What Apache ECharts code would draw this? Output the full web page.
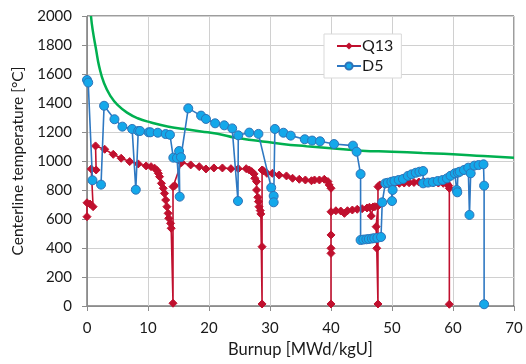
<!DOCTYPE html>
<html>
<head>
<meta charset="utf-8">
<script src="https://cdn.jsdelivr.net/npm/echarts@6/dist/echarts.min.js"></script>
<style>
html,body{margin:0;padding:0;background:#fff;}
#chart{width:526px;height:364px;}
</style>
</head>
<body>
<div id="chart"></div>
<script>
// ---- data (x = burnup MWd/kgU, y = temperature °C) ----
const seriesNames = ['Q13', 'D5'];
const xTickValues = [0, 10, 20, 30, 40, 50, 60, 70];
const yTickValues = [0, 200, 400, 600, 800, 1000, 1200, 1400, 1600, 1800, 2000];

const q13 = [
  [0.0,616],[0.0,712],[0.5,703],[1.0,685],[0.7,945],[1.5,938],[1.4,1104],[2.9,1081],
  [4.3,1046],[5.6,1019],[7.0,996],[8.4,980],[9.7,966],[10.5,961],[11.1,950],[11.5,934],
  [11.7,915],[11.9,892],[12.2,846],[12.5,812],[12.7,777],[12.9,731],[13.1,685],[13.3,639],
  [13.4,605],[13.7,570],[13.8,536],[14.1,19],[14.1,823],[14.4,830],[15.5,989],[17.0,973],
  [18.4,961],[19.5,945],[20.8,952],[22.2,952],[23.6,947],[24.8,947],[26.1,947],[26.6,938],
  [27.0,927],[27.4,911],[27.5,881],[27.8,858],[27.8,800],[28.0,750],[28.1,720],[28.2,685],
  [28.4,658],[28.5,635],[28.7,14],[28.7,409],[28.7,938],[28.9,933],[29.5,915],[30.4,915],
  [31.5,903],[32.7,897],[33.7,881],[34.8,874],[35.8,869],[36.8,864],[37.3,869],[38.1,869],
  [38.9,874],[39.5,858],[39.7,835],[40.0,812],[40.0,14],[40.0,363],[40.0,398],[40.0,490],
  [40.0,650],[40.8,657],[41.6,655],[42.2,639],[42.7,657],[43.5,662],[44.3,667],[45.1,671],
  [45.9,676],[46.3,681],[46.6,621],[46.9,683],[47.2,685],[47.7,690],[47.4,547],[47.5,398],
  [47.7,14],[47.7,823],[48.0,835],[48.8,838],[49.6,840],[50.4,843],[51.2,846],[52.0,848],
  [52.8,850],[53.6,852],[54.4,855],[55.2,857],[56.0,852],[56.8,850],[57.6,848],[58.4,846],
  [59.0,846],[59.3,830],[59.4,812],[59.4,12]
];

const d5 = [
  [0.0,1559],[0.2,1541],[0.9,867],[2.3,837],[2.8,1381],[4.5,1288],[5.8,1237],[7.4,1221],
  [8.0,802],[8.4,1207],[8.7,1207],[10.1,1198],[10.4,1198],[11.6,1195],[12.9,1186],[13.6,1181],
  [14.15,1023],[14.75,1021],[15.2,754],[15.1,1069],[15.4,1026],[16.6,1363],[18.7,1313],
  [19.5,1290],[21.0,1260],[22.5,1246],[23.8,1225],[24.75,724],[24.8,1177],[26.6,1196],
  [28.1,1187],[30.2,816],[30.6,759],[30.6,715],[30.8,1221],[32.2,1195],[33.4,1175],
  [35.7,1150],[36.9,1141],[38.2,1136],[40.5,1117],[43.6,1106],[44.2,1064],[44.85,910],
  [44.85,455],[45.3,458],[45.8,460],[46.2,462],[46.7,465],[47.1,468],[47.6,470],[48.2,476],
  [48.4,715],[48.9,846],[49.3,850],[49.9,857],[50.0,724],[50.1,800],[50.4,862],[51.1,869],
  [51.8,876],[52.6,897],[53.2,908],[53.9,919],[54.5,926],[55.1,931],[55.1,846],[55.9,851],
  [56.7,855],[57.5,862],[58.3,869],[59.0,880],[59.6,898],[60.3,915],[60.6,800],[60.7,784],
  [60.8,920],[61.1,926],[61.8,938],[62.5,954],[62.7,628],[62.9,915],[63.5,968],[64.2,972],
  [65.0,977],[65.1,830],[65.1,12]
];

// green limit curve (read points along the drawn curve)
const limitCurve = [
  [0.65,2000],[0.93,1904],[1.5,1766],[2.0,1651],[2.8,1536],[3.9,1445],[5.0,1387],[6.7,1330],
  [8.3,1295],[10.5,1266],[13.2,1238],[16.0,1220],[18.7,1204],[21.4,1188],[24.4,1160],
  [28.0,1140],[32.0,1118],[36.0,1102],[40.0,1088],[45.0,1071],[50.0,1064],[55.0,1055],
  [60.0,1046],[65.0,1034],[70.0,1023]
];

const FONT = 'Lato';
const chart = echarts.init(document.getElementById('chart'), null, {renderer: 'canvas'});
chart.setOption({
  animation: false,
  backgroundColor: '#ffffff',
  textStyle: {fontFamily: FONT},
  grid: {left: 87, right: 12, top: 16, bottom: 58, show: true, borderColor: '#3a3a3a', borderWidth: 1},
  legend: {
    show: true,
    data: seriesNames,
    orient: 'vertical',
    left: 324, top: 34,
    width: 82,
    padding: [4, 8, 4, 12],
    itemGap: 4,
    itemWidth: 24, itemHeight: 9,
    backgroundColor: '#ffffff',
    borderColor: '#d9d9d9', borderWidth: 1,
    textStyle: {fontFamily: FONT, fontSize: 16, color: '#1a1a1a', padding: [0,0,0,-4]}
  },
  xAxis: {
    type: 'value', min: 0, max: 70, interval: 10,
    name: 'Burnup [MWd/kgU]', nameLocation: 'middle', nameGap: 34,
    nameTextStyle: {fontFamily: FONT, fontSize: 16.5, color: '#1a1a1a'},
    axisLine: {show: true, lineStyle: {color: '#8c8c8c', width: 1}},
    axisTick: {show: true, inside: false, length: 5, lineStyle: {color: '#8c8c8c'}},
    axisLabel: {fontFamily: FONT, fontSize: 15, color: '#1a1a1a', margin: 15,
      formatter: v => xTickValues.includes(v) ? String(v) : ''},
    splitLine: {show: true, lineStyle: {color: '#d0d0d0', width: 1}}
  },
  yAxis: {
    type: 'value', min: 0, max: 2000, interval: 200,
    name: 'Centerline temperature [°C]', nameLocation: 'middle', nameGap: 60, nameRotate: 90,
    nameTextStyle: {fontFamily: FONT, fontSize: 15.5, color: '#1a1a1a'},
    axisLine: {show: true, lineStyle: {color: '#8c8c8c', width: 1}},
    axisTick: {show: true, inside: false, length: 5, lineStyle: {color: '#8c8c8c'}},
    axisLabel: {fontFamily: FONT, fontSize: 15, color: '#1a1a1a', margin: 15,
      formatter: v => yTickValues.includes(v) ? String(v) : ''},
    splitLine: {show: true, lineStyle: {color: '#d0d0d0', width: 1}}
  },
  series: [
    {
      name: 'limit', type: 'line', data: limitCurve, smooth: true, showSymbol: false,
      symbol: 'none', lineStyle: {color: '#00B050', width: 2.5}, z: 2, silent: true
    },
    {
      name: 'Q13', type: 'line', data: q13, symbol: 'diamond', symbolSize: 8,
      itemStyle: {color: '#C0102E', borderColor: '#C0102E'},
      lineStyle: {color: '#C0102E', width: 1.6}, z: 3
    },
    {
      name: 'D5', type: 'line', data: d5, symbol: 'circle', symbolSize: 9,
      itemStyle: {color: '#14A8EA', borderColor: '#2E73B8', borderWidth: 1},
      lineStyle: {color: '#2E78C2', width: 1.6}, z: 4
    }
  ]
});
</script>
</body>
</html>
